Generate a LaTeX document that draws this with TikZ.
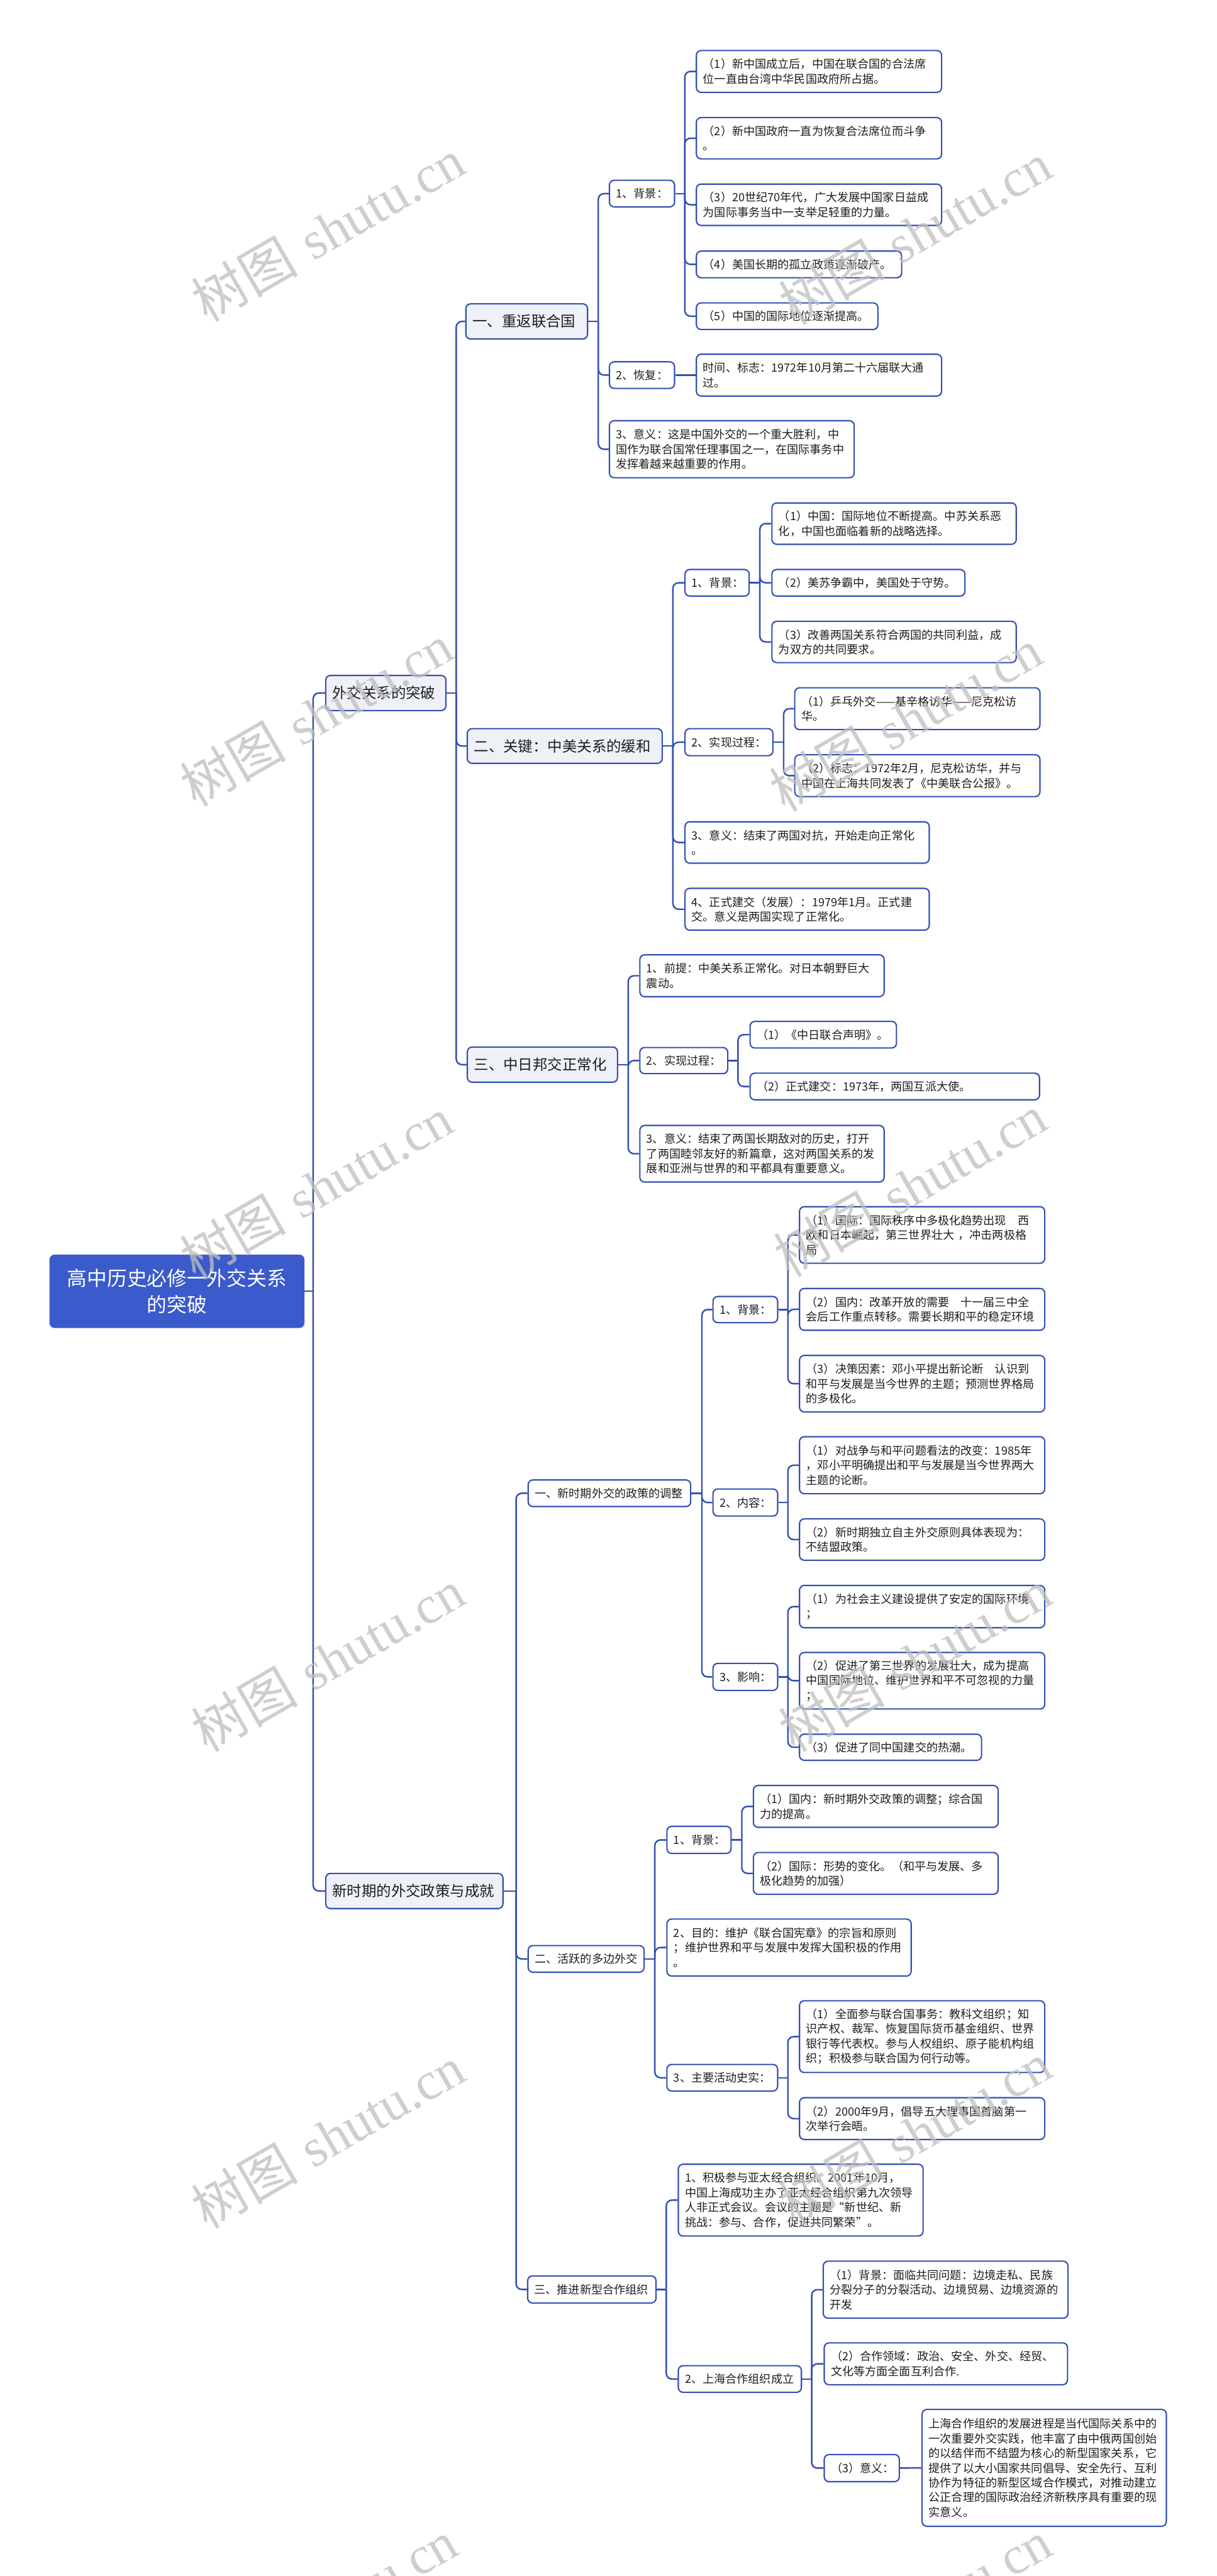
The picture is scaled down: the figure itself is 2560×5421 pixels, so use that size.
\documentclass[tikz,border=0pt]{standalone}
\usepackage{fontspec}
\setmainfont{Noto Sans CJK SC}
\newfontfamily\wmlatin{Liberation Serif}
\definecolor{lnblue}{RGB}{50,80,178}
\definecolor{rootblue}{RGB}{59,91,204}
\definecolor{lvfill}{RGB}{238,241,247}
\definecolor{txt}{RGB}{30,30,30}
\definecolor{wmgray}{RGB}{190,190,190}
\tikzset{
 box/.style={draw=lnblue, line width=1.4pt, rounded corners=5pt, fill=white, text=txt,
   inner xsep=7pt, inner ysep=0pt, align=left, font=\fontsize{12}{15.5}\selectfont},
 big/.style={font=\fontsize{15.5}{19}\selectfont, fill=lvfill},
 rootbox/.style={fill=rootblue, draw=rootblue, text=white, align=center,
   font=\fontsize{21}{27.5}\selectfont},
 conn/.style={draw=lnblue, line width=1.6pt},
 wmstyle/.style={rotate=30, text=wmgray, opacity=0.75, inner sep=0pt},
}
\newcommand\bxnode[7][]{%
  \pgfmathsetmacro\bxw{(#5-#3)*0.5}%
  \pgfmathsetmacro\bxh{(#6-#4)*0.5}%
  \pgfmathsetmacro\bxt{(#5-#3)*0.5-14}%
  \node[box,#1,anchor=north west,minimum width=\bxw pt,minimum height=\bxh pt,text width=\bxt pt] (#2) at (#3,#4) {#7};}
\newcommand\linkto[3]{%
  \draw[conn] (#1.east) -- (#1.east -| #3);
  \draw[conn,rounded corners=6pt] (#1.east -| #3) |- (#2.west);}
\newcommand\wmark[3]{\node[wmstyle] (#1) at (#2,#3) {\fontsize{56}{56}\selectfont 树图\hspace{0.3em}{\wmlatin shutu.cn}};}
\begin{document}
\begin{tikzpicture}[x=0.5pt,y=-0.5pt]
\fill[white] (0,0) rectangle (2560,5421);
\useasboundingbox (0,0) rectangle (2560,5421);
% trunks
\coordinate (tR) at (659,0);
\coordinate (tA) at (960,0);
\coordinate (tB) at (1086,0);
\coordinate (tA1) at (1259,0);
\coordinate (tA1a) at (1441,0);
\coordinate (tA2) at (1416,0);
\coordinate (tA2a) at (1599,0);
\coordinate (tA2b) at (1649,0);
\coordinate (tA3) at (1322,0);
\coordinate (tA3b) at (1553,0);
\coordinate (tB1) at (1477,0);
\coordinate (tB1x) at (1658,0);
\coordinate (tB2) at (1378,0);
\coordinate (tB2a) at (1561,0);
\coordinate (tB3) at (1402,0);
\coordinate (tB3b) at (1708,0);
% root and level 1
\bxnode[rootbox]{R}{104}{2640}{638}{2792}{高中历史必修一外交关系\\的突破}
\bxnode[big]{A}{684}{1420}{937}{1494}{外交关系的突破}
\bxnode[big]{B}{684}{3941}{1057}{4015}{新时期的外交政策与成就}
% section A
\bxnode[big]{A1}{979}{638}{1235}{712}{一、重返联合国}
\bxnode[big]{A2}{982}{1532}{1392}{1605}{二、关键：中美关系的缓和}
\bxnode[big]{A3}{982}{2202}{1298}{2276}{三、中日邦交正常化}
\bxnode{A1a}{1281}{378}{1418}{434}{1、背景：}
\bxnode{A1a1}{1464}{105}{1980}{193}{（1）新中国成立后，中国在联合国的合法席\\位一直由台湾中华民国政府所占据。}
\bxnode{A1a2}{1464}{246}{1980}{333}{（2）新中国政府一直为恢复合法席位而斗争\\。}
\bxnode{A1a3}{1464}{386}{1980}{473}{（3）20世纪70年代，广大发展中国家日益成\\为国际事务当中一支举足轻重的力量。}
\bxnode{A1a4}{1464}{527}{1896}{583}{（4）美国长期的孤立政策逐渐破产。}
\bxnode{A1a5}{1464}{636}{1846}{692}{（5）中国的国际地位逐渐提高。}
\bxnode{A1b}{1281}{760}{1418}{816}{2、恢复：}
\bxnode{A1b1}{1464}{744}{1980}{832}{时间、标志：1972年10月第二十六届联大通\\过。}
\bxnode{A1c}{1281}{884}{1796}{1004}{3、意义：这是中国外交的一个重大胜利，中\\国作为联合国常任理事国之一，在国际事务中\\发挥着越来越重要的作用。}
\bxnode{A2a}{1440}{1197}{1575}{1253}{1、背景：}
\bxnode{A2a1}{1623}{1057}{2137}{1144}{（1）中国：国际地位不断提高。中苏关系恶\\化，中国也面临着新的战略选择。}
\bxnode{A2a2}{1623}{1197}{2029}{1253}{（2）美苏争霸中，美国处于守势。}
\bxnode{A2a3}{1623}{1306}{2137}{1393}{（3）改善两国关系符合两国的共同利益，成\\为双方的共同要求。}
\bxnode{A2b}{1440}{1532}{1625}{1589}{2、实现过程：}
\bxnode{A2b1}{1671}{1446}{2187}{1534}{（1）乒乓外交——基辛格访华——尼克松访\\华。}
\bxnode{A2b2}{1671}{1587}{2187}{1675}{（2）标志：1972年2月，尼克松访华，并与\\中国在上海共同发表了《中美联合公报》。}
\bxnode{A2c}{1440}{1728}{1954}{1815}{3、意义：结束了两国对抗，开始走向正常化\\。}
\bxnode{A2d}{1440}{1868}{1954}{1956}{4、正式建交（发展）：1979年1月。正式建\\交。意义是两国实现了正常化。}
\bxnode{A3a}{1345}{2008}{1859}{2096}{1、前提：中美关系正常化。对日本朝野巨大\\震动。}
\bxnode{A3b}{1345}{2203}{1530}{2258}{2、实现过程：}
\bxnode{A3b1}{1577}{2148}{1885}{2204}{（1）《中日联合声明》。}
\bxnode{A3b2}{1577}{2257}{2186}{2313}{（2）正式建交：1973年，两国互派大使。}
\bxnode{A3c}{1345}{2367}{1859}{2486}{3、意义：结束了两国长期敌对的历史，打开\\了两国睦邻友好的新篇章，这对两国关系的发\\展和亚洲与世界的和平都具有重要意义。}
% section B
\bxnode{B1}{1110}{3113}{1452}{3169}{一、新时期外交的政策的调整}
\bxnode{B1a}{1499}{2727}{1635}{2782}{1、背景：}
\bxnode{B1a1}{1681}{2538}{2197}{2657}{（1）国际：国际秩序中多极化趋势出现　西\\欧和日本崛起，第三世界壮大~，冲击两极格\\局}
\bxnode{B1a2}{1681}{2710}{2197}{2798}{（2）国内：改革开放的需要　十一届三中全\\会后工作重点转移。需要长期和平的稳定环境}
\bxnode{B1a3}{1681}{2851}{2197}{2970}{（3）决策因素：邓小平提出新论断　认识到\\和平与发展是当今世界的主题；预测世界格局\\的多极化。}
\bxnode{B1b}{1499}{3132}{1635}{3189}{2、内容：}
\bxnode{B1b1}{1681}{3022}{2197}{3142}{（1）对战争与和平问题看法的改变：1985年\\，邓小平明确提出和平与发展是当今世界两大\\主题的论断。}
\bxnode{B1b2}{1681}{3195}{2197}{3282}{（2）新时期独立自主外交原则具体表现为：\\不结盟政策。}
\bxnode{B1c}{1499}{3499}{1635}{3556}{3、影响：}
\bxnode{B1c1}{1681}{3335}{2197}{3424}{（1）为社会主义建设提供了安定的国际环境\\；}
\bxnode{B1c2}{1681}{3476}{2197}{3595}{（2）促进了第三世界的发展壮大，成为提高\\中国国际地位、维护世界和平不可忽视的力量\\；}
\bxnode{B1c3}{1681}{3648}{2064}{3703}{（3）促进了同中国建交的热潮。}
\bxnode{B2}{1110}{4093}{1354}{4149}{二、活跃的多边外交}
\bxnode{B2a}{1402}{3842}{1537}{3899}{1、背景：}
\bxnode{B2a1}{1584}{3756}{2099}{3844}{（1）国内：新时期外交政策的调整；综合国\\力的提高。}
\bxnode{B2a2}{1584}{3897}{2099}{3985}{（2）国际：形势的变化。（和平与发展、多\\极化趋势的加强）}
\bxnode{B2b}{1402}{4037}{1916}{4157}{2、目的：维护《联合国宪章》的宗旨和原则\\；维护世界和平与发展中发挥大国积极的作用\\。}
\bxnode{B2c}{1402}{4343}{1635}{4399}{3、主要活动史实：}
\bxnode{B2c1}{1681}{4209}{2197}{4360}{（1）全面参与联合国事务：教科文组织；知\\识产权、裁军、恢复国际货币基金组织、世界\\银行等代表权。参与人权组织、原子能机构组\\织；积极参与联合国为何行动等。}
\bxnode{B2c2}{1681}{4413}{2197}{4501}{（2）2000年9月，倡导五大理事国首脑第一\\次举行会晤。}
\bxnode{B3}{1109}{4788}{1379}{4845}{三、推进新型合作组织}
\bxnode{B3a}{1426}{4553}{1941}{4704}{1、积极参与亚太经合组织。2001年10月，\\中国上海成功主办了亚太经合组织第九次领导\\人非正式会议。会议的主题是“新世纪、新\\挑战：参与、合作，促进共同繁荣”。}
\bxnode{B3b}{1426}{4977}{1685}{5033}{2、上海合作组织成立}
\bxnode{B3b1}{1731}{4757}{2246}{4877}{（1）背景：面临共同问题：边境走私、民族\\分裂分子的分裂活动、边境贸易、边境资源的\\开发}
\bxnode{B3b2}{1733}{4929}{2245}{5017}{（2）合作领域：政治、安全、外交、经贸、\\文化等方面全面互利合作.}
\bxnode{B3b3}{1733}{5164}{1891}{5221}{（3）意义：}
\bxnode{B3b3a}{1939}{5069}{2453}{5315}{上海合作组织的发展进程是当代国际关系中的\\一次重要外交实践，他丰富了由中俄两国创始\\的以结伴而不结盟为核心的新型国家关系，它\\提供了以大小国家共同倡导、安全先行、互利\\协作为特征的新型区域合作模式，对推动建立\\公正合理的国际政治经济新秩序具有重要的现\\实意义。}
% connectors
\linkto{R}{A}{tR}
\linkto{R}{B}{tR}
\linkto{A}{A1}{tA}
\linkto{A}{A2}{tA}
\linkto{A}{A3}{tA}
\linkto{A1}{A1a}{tA1}
\linkto{A1}{A1b}{tA1}
\linkto{A1}{A1c}{tA1}
\linkto{A1a}{A1a1}{tA1a}
\linkto{A1a}{A1a2}{tA1a}
\linkto{A1a}{A1a3}{tA1a}
\linkto{A1a}{A1a4}{tA1a}
\linkto{A1a}{A1a5}{tA1a}
\draw[conn] (A1b.east) -- (A1b1.west);
\linkto{A2}{A2a}{tA2}
\linkto{A2}{A2b}{tA2}
\linkto{A2}{A2c}{tA2}
\linkto{A2}{A2d}{tA2}
\linkto{A2a}{A2a1}{tA2a}
\linkto{A2a}{A2a2}{tA2a}
\linkto{A2a}{A2a3}{tA2a}
\linkto{A2b}{A2b1}{tA2b}
\linkto{A2b}{A2b2}{tA2b}
\linkto{A3}{A3a}{tA3}
\linkto{A3}{A3b}{tA3}
\linkto{A3}{A3c}{tA3}
\linkto{A3b}{A3b1}{tA3b}
\linkto{A3b}{A3b2}{tA3b}
\linkto{B}{B1}{tB}
\linkto{B}{B2}{tB}
\linkto{B}{B3}{tB}
\linkto{B1}{B1a}{tB1}
\linkto{B1}{B1b}{tB1}
\linkto{B1}{B1c}{tB1}
\linkto{B1a}{B1a1}{tB1x}
\linkto{B1a}{B1a2}{tB1x}
\linkto{B1a}{B1a3}{tB1x}
\linkto{B1b}{B1b1}{tB1x}
\linkto{B1b}{B1b2}{tB1x}
\linkto{B1c}{B1c1}{tB1x}
\linkto{B1c}{B1c2}{tB1x}
\linkto{B1c}{B1c3}{tB1x}
\linkto{B2}{B2a}{tB2}
\linkto{B2}{B2b}{tB2}
\linkto{B2}{B2c}{tB2}
\linkto{B2a}{B2a1}{tB2a}
\linkto{B2a}{B2a2}{tB2a}
\linkto{B2c}{B2c1}{tB1x}
\linkto{B2c}{B2c2}{tB1x}
\linkto{B3}{B3a}{tB3}
\linkto{B3}{B3b}{tB3}
\linkto{B3b}{B3b1}{tB3b}
\linkto{B3b}{B3b2}{tB3b}
\linkto{B3b}{B3b3}{tB3b}
\draw[conn] (B3b3.east) -- (B3b3a.west);
% watermarks
\wmark{w1}{690}{484}
\wmark{w2}{1925}{491}
\wmark{w3}{665}{1505}
\wmark{w4}{1905}{1515}
\wmark{w5}{665}{2500}
\wmark{w6}{1915}{2495}
\wmark{w7}{690}{3494}
\wmark{w8}{1925}{3494}
\wmark{w9}{690}{4497}
\wmark{w10}{1925}{4490}
\wmark{w11}{675}{5495}
\wmark{w12}{1925}{5495}
\end{tikzpicture}
\end{document}
